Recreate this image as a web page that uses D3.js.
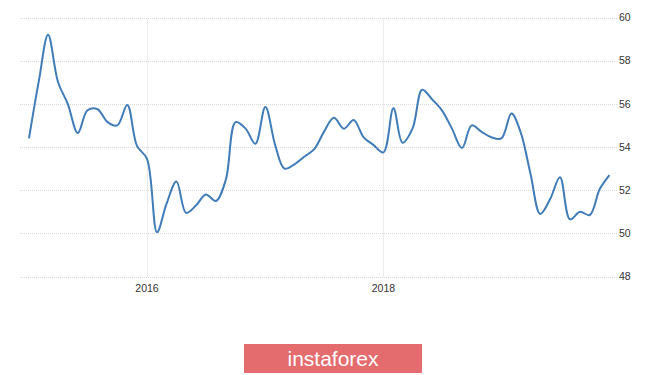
<!DOCTYPE html>
<html>
<head>
<meta charset="utf-8">
<script src="https://cdn.jsdelivr.net/npm/d3@7"></script>
<style>
  body { margin: 0; background: #fff; }
  text { font-family: "Liberation Sans", Arial, sans-serif; }
</style>
</head>
<body>
<div class="chart"></div>
<script>
// monthly readings, Jan 2015 .. Dec 2019
const months = d3.timeMonths(new Date(2015, 0, 1), new Date(2020, 0, 1))
const values = [
  54.4, 57.1, 59.2, 57.0, 56.0, 54.65, 55.7, 55.75, 55.15, 55.0, 55.95, 54.05,
  53.45, 50.05, 51.35, 52.4, 50.95, 51.3, 51.8, 51.5, 52.5, 55.15, 54.85, 54.15,
  55.85, 54.05, 53.0, 53.2, 53.55, 53.9, 54.7, 55.35, 54.85, 55.25, 54.45, 54.1,
  53.75, 55.8, 54.2, 54.85, 56.65, 56.2, 55.7, 54.85, 53.95, 55.0, 54.7, 54.45,
  54.4, 55.55, 54.7, 52.75, 50.9, 51.6, 52.6, 50.65, 51.0, 50.85, 52.05, 52.7
]
const yTicks = [48, 50, 52, 54, 56, 58, 60]
const xTicks = [new Date(2016, 0, 1), new Date(2018, 0, 1)]
const brand = "instaforex"

const data = months.map((d, i) => ({date: d, value: values[i]}))

const width = 665, height = 375
const plot = {left: 20, right: 617, top: 17.5, bottom: 276.5}

const svg = d3.select(".chart")
  .append("svg")
    .attr("width", width)
    .attr("height", height)

// x scale anchored on the two year gridlines
const x = d3.scaleTime()
  .domain(xTicks)
  .range([147, 383.4])

const y = d3.scaleLinear()
  .domain([48, 60])
  .range([plot.bottom, plot.top])

// horizontal gridlines + right labels
svg.append("g")
  .selectAll("line")
  .data(yTicks)
  .join("line")
    .attr("x1", plot.left)
    .attr("x2", plot.right)
    .attr("y1", d => Math.round(y(d)) + 0.5)
    .attr("y2", d => Math.round(y(d)) + 0.5)
    .attr("stroke", "#d9d9d9")
    .attr("stroke-dasharray", "1,1")

svg.append("g")
  .selectAll("text")
  .data(yTicks)
  .join("text")
    .attr("x", plot.right + 2)
    .attr("y", d => y(d))
    .attr("dy", "0.35em")
    .attr("font-size", "10.5px")
    .attr("fill", "#333")
    .text(d => d)

// vertical year gridlines + labels
svg.append("g")
  .selectAll("line")
  .data(xTicks)
  .join("line")
    .attr("x1", d => Math.round(x(d)) + 0.5)
    .attr("x2", d => Math.round(x(d)) + 0.5)
    .attr("y1", plot.top)
    .attr("y2", plot.bottom)
    .attr("stroke", "#d9d9d9")
    .attr("stroke-dasharray", "1,1")

svg.append("g")
  .selectAll("text")
  .data(xTicks)
  .join("text")
    .attr("x", d => x(d))
    .attr("y", 288)
    .attr("dy", "0.35em")
    .attr("text-anchor", "middle")
    .attr("font-size", "10.5px")
    .attr("fill", "#333")
    .text(d => d3.timeFormat("%Y")(d))

// the series
svg.append("path")
  .datum(data)
  .attr("fill", "none")
  .attr("stroke", "#3f7cb8")
  .attr("stroke-width", 2)
  .attr("stroke-linejoin", "round")
  .attr("d", d3.line()
    .x(d => x(d.date))
    .y(d => y(d.value))
    .curve(d3.curveCatmullRom.alpha(0.5)))

// watermark banner
const banner = svg.append("g").attr("transform", "translate(244,344)")
banner.append("rect")
  .attr("width", 178)
  .attr("height", 29)
  .attr("fill", "#e46b6e")
banner.append("text")
  .attr("x", 89)
  .attr("y", 15)
  .attr("dy", "0.35em")
  .attr("text-anchor", "middle")
  .attr("font-size", "21px")
  .attr("font-family", "'Open Sans', sans-serif")
  .attr("font-weight", 300)
  .attr("fill", "#fff")
  .text(brand)
</script>
</body>
</html>
